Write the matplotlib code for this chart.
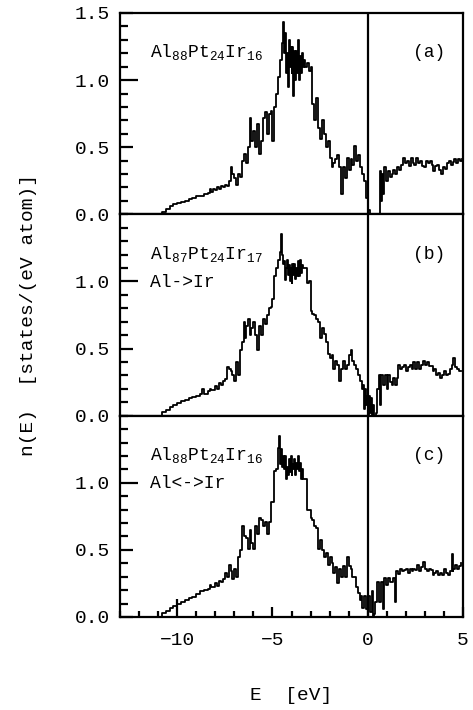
import numpy as np
import matplotlib.pyplot as plt
from matplotlib.ticker import MultipleLocator, FixedLocator

# ------------------------------------------------------------
# font: Courier-like monospace everywhere, math text too
# ------------------------------------------------------------
plt.rcParams['font.family'] = ['Liberation Mono', 'DejaVu Sans']
plt.rcParams['mathtext.fontset'] = 'custom'
plt.rcParams['mathtext.rm'] = 'Liberation Mono'
plt.rcParams['mathtext.it'] = 'Liberation Mono'
plt.rcParams['mathtext.bf'] = 'Liberation Mono'

# ------------------------------------------------------------
# DOS, digitised (E [eV], n(E))
# ------------------------------------------------------------
dos_a = [
    (-10.9, 0.0), (-10.8, 0.02), (-10.6, 0.04), (-10.4, 0.06), (-10.2, 0.075),
    (-10.0, 0.085), (-9.8, 0.095), (-9.6, 0.10), (-9.4, 0.115), (-9.2, 0.12),
    (-9.0, 0.135), (-8.8, 0.14), (-8.6, 0.155), (-8.4, 0.16), (-8.3, 0.19),
    (-8.2, 0.165), (-8.1, 0.185), (-8.0, 0.18), (-7.9, 0.2), (-7.8, 0.19),
    (-7.7, 0.21), (-7.6, 0.2), (-7.5, 0.22), (-7.4, 0.21), (-7.3, 0.25),
    (-7.2, 0.35), (-7.1, 0.3), (-7.0, 0.27), (-6.9, 0.22), (-6.8, 0.3),
    (-6.7, 0.28), (-6.6, 0.4), (-6.5, 0.45), (-6.4, 0.38), (-6.3, 0.5),
    (-6.2, 0.72), (-6.1, 0.55), (-6.0, 0.62), (-5.9, 0.5), (-5.8, 0.67),
    (-5.7, 0.45), (-5.6, 0.55), (-5.5, 0.72), (-5.4, 0.76), (-5.3, 0.6),
    (-5.2, 0.75), (-5.1, 0.77), (-5.0, 0.55), (-4.9, 0.8), (-4.8, 0.9),
    (-4.7, 1.02), (-4.6, 1.15), (-4.5, 1.28), (-4.45, 1.43), (-4.4, 1.2),
    (-4.35, 1.35), (-4.3, 1.05), (-4.25, 1.2), (-4.2, 0.95), (-4.15, 1.3),
    (-4.1, 1.1), (-4.05, 1.25), (-4.0, 1.05), (-3.95, 1.25), (-3.9, 0.88),
    (-3.85, 1.22), (-3.8, 1.0), (-3.75, 1.22), (-3.7, 1.05), (-3.65, 1.3),
    (-3.6, 1.0), (-3.55, 1.18), (-3.5, 1.05), (-3.45, 1.2), (-3.4, 1.1),
    (-3.35, 1.15), (-3.3, 1.1), (-3.2, 1.13), (-3.1, 1.07), (-3.0, 1.1),
    (-2.9, 0.82), (-2.8, 0.7), (-2.7, 0.87), (-2.6, 0.64), (-2.5, 0.56),
    (-2.4, 0.7), (-2.3, 0.6), (-2.2, 0.5), (-2.1, 0.55), (-2.0, 0.42),
    (-1.9, 0.35), (-1.8, 0.38), (-1.7, 0.41), (-1.6, 0.44), (-1.5, 0.35),
    (-1.4, 0.15), (-1.3, 0.35), (-1.2, 0.27), (-1.1, 0.42), (-1.0, 0.33),
    (-0.9, 0.41), (-0.8, 0.37), (-0.7, 0.51), (-0.6, 0.4), (-0.5, 0.44),
    (-0.4, 0.35), (-0.3, 0.3), (-0.2, 0.25), (-0.1, 0.12), (0.0, 0.03),
    (0.1, 0.0), (0.65, 0.32), (0.7, 0.1), (0.75, 0.3), (0.8, 0.15),
    (0.85, 0.35), (0.95, 0.25), (1.05, 0.32), (1.15, 0.28), (1.25, 0.3),
    (1.35, 0.33), (1.45, 0.3), (1.55, 0.35), (1.65, 0.33), (1.75, 0.37),
    (1.85, 0.42), (1.95, 0.38), (2.05, 0.4), (2.15, 0.36), (2.25, 0.42),
    (2.35, 0.38), (2.45, 0.37), (2.55, 0.42), (2.65, 0.38), (2.75, 0.4),
    (2.85, 0.36), (2.95, 0.35), (3.05, 0.4), (3.15, 0.38), (3.25, 0.4),
    (3.35, 0.37), (3.45, 0.32), (3.55, 0.36), (3.65, 0.37), (3.75, 0.33),
    (3.85, 0.3), (3.95, 0.35), (4.05, 0.34), (4.15, 0.38), (4.25, 0.4),
    (4.35, 0.37), (4.45, 0.39), (4.55, 0.41), (4.65, 0.38), (4.75, 0.41),
    (4.85, 0.4), (4.95, 0.41),
]

dos_b = [
    (-11.0, 0.0), (-10.8, 0.025), (-10.6, 0.045), (-10.4, 0.065), (-10.2, 0.08),
    (-10.0, 0.095), (-9.8, 0.11), (-9.6, 0.12), (-9.4, 0.13), (-9.2, 0.14),
    (-9.0, 0.15), (-8.8, 0.16), (-8.7, 0.2), (-8.6, 0.165), (-8.4, 0.18),
    (-8.3, 0.2), (-8.2, 0.19), (-8.0, 0.22), (-7.9, 0.2), (-7.8, 0.24),
    (-7.7, 0.23), (-7.6, 0.26), (-7.5, 0.27), (-7.4, 0.36), (-7.3, 0.35),
    (-7.2, 0.33), (-7.1, 0.3), (-7.0, 0.26), (-6.9, 0.4), (-6.8, 0.3),
    (-6.7, 0.49), (-6.6, 0.55), (-6.5, 0.7), (-6.45, 0.58), (-6.4, 0.67),
    (-6.3, 0.72), (-6.2, 0.6), (-6.1, 0.65), (-6.0, 0.7), (-5.9, 0.6),
    (-5.8, 0.49), (-5.7, 0.67), (-5.6, 0.6), (-5.5, 0.72), (-5.4, 0.68),
    (-5.3, 0.75), (-5.2, 0.8), (-5.1, 0.81), (-5.0, 0.87), (-4.9, 1.04),
    (-4.8, 1.1), (-4.7, 1.16), (-4.6, 1.22), (-4.55, 1.35), (-4.5, 1.2),
    (-4.45, 1.13), (-4.4, 1.15), (-4.35, 1.01), (-4.3, 1.1), (-4.25, 1.16),
    (-4.2, 1.05), (-4.15, 1.12), (-4.1, 1.0), (-4.05, 1.1), (-4.0, 0.99),
    (-3.95, 1.13), (-3.9, 1.05), (-3.85, 1.13), (-3.8, 1.02), (-3.75, 1.1),
    (-3.7, 1.04), (-3.65, 1.15), (-3.6, 1.04), (-3.55, 1.16), (-3.5, 1.06),
    (-3.45, 1.12), (-3.4, 1.1), (-3.3, 1.1), (-3.2, 0.99), (-3.1, 1.0),
    (-3.0, 0.78), (-2.9, 0.76), (-2.8, 0.75), (-2.7, 0.72), (-2.6, 0.7),
    (-2.5, 0.58), (-2.4, 0.65), (-2.3, 0.61), (-2.2, 0.55), (-2.1, 0.46),
    (-2.0, 0.43), (-1.9, 0.45), (-1.8, 0.35), (-1.7, 0.41), (-1.6, 0.38),
    (-1.5, 0.26), (-1.4, 0.35), (-1.3, 0.41), (-1.2, 0.35), (-1.1, 0.38),
    (-1.0, 0.45), (-0.9, 0.49), (-0.8, 0.41), (-0.7, 0.38), (-0.6, 0.35),
    (-0.5, 0.3), (-0.4, 0.26), (-0.3, 0.2), (-0.25, 0.23), (-0.2, 0.05),
    (-0.15, 0.2), (-0.1, 0.08), (-0.05, 0.15), (0.0, 0.0), (0.05, 0.15),
    (0.1, 0.02), (0.15, 0.13), (0.2, 0.0), (0.3, 0.08), (0.35, 0.0),
    (0.45, 0.02), (0.5, 0.2), (0.6, 0.3), (0.65, 0.08), (0.7, 0.3),
    (0.8, 0.23), (0.9, 0.3), (1.0, 0.2), (1.05, 0.3), (1.15, 0.25),
    (1.25, 0.23), (1.35, 0.28), (1.45, 0.23), (1.55, 0.28), (1.6, 0.38),
    (1.7, 0.35), (1.8, 0.36), (1.9, 0.38), (2.0, 0.33), (2.1, 0.36),
    (2.2, 0.38), (2.3, 0.35), (2.4, 0.4), (2.5, 0.35), (2.6, 0.4),
    (2.7, 0.35), (2.8, 0.38), (2.9, 0.41), (3.0, 0.38), (3.1, 0.4),
    (3.2, 0.37), (3.3, 0.37), (3.4, 0.33), (3.5, 0.35), (3.6, 0.3),
    (3.7, 0.32), (3.8, 0.28), (3.9, 0.3), (4.0, 0.33), (4.1, 0.3),
    (4.2, 0.31), (4.3, 0.35), (4.4, 0.38), (4.5, 0.43), (4.6, 0.36),
    (4.7, 0.35), (4.8, 0.33), (4.9, 0.33),
]

dos_c = [
    (-11.0, 0.0), (-10.8, 0.03), (-10.6, 0.045), (-10.4, 0.065), (-10.2, 0.085),
    (-10.0, 0.1), (-9.8, 0.115), (-9.6, 0.125), (-9.4, 0.14), (-9.2, 0.15),
    (-9.0, 0.17), (-8.8, 0.19), (-8.6, 0.2), (-8.4, 0.21), (-8.3, 0.24),
    (-8.2, 0.22), (-8.0, 0.25), (-7.9, 0.23), (-7.8, 0.27), (-7.7, 0.26),
    (-7.6, 0.28), (-7.5, 0.33), (-7.4, 0.3), (-7.3, 0.39), (-7.2, 0.34),
    (-7.1, 0.28), (-7.0, 0.36), (-6.9, 0.3), (-6.8, 0.45), (-6.7, 0.5),
    (-6.6, 0.68), (-6.5, 0.6), (-6.4, 0.59), (-6.3, 0.51), (-6.2, 0.65),
    (-6.1, 0.55), (-6.0, 0.51), (-5.9, 0.68), (-5.8, 0.62), (-5.7, 0.74),
    (-5.6, 0.72), (-5.5, 0.68), (-5.4, 0.71), (-5.3, 0.62), (-5.2, 0.71),
    (-5.1, 0.86), (-5.0, 0.86), (-4.9, 1.09), (-4.8, 1.1), (-4.7, 1.26),
    (-4.65, 1.35), (-4.6, 1.14), (-4.55, 1.25), (-4.5, 1.12), (-4.45, 1.2),
    (-4.4, 1.1), (-4.35, 1.2), (-4.3, 1.03), (-4.25, 1.12), (-4.2, 1.06),
    (-4.15, 1.18), (-4.1, 1.08), (-4.05, 1.2), (-4.0, 1.06), (-3.95, 1.14),
    (-3.9, 1.1), (-3.85, 1.18), (-3.8, 1.06), (-3.75, 1.15), (-3.7, 1.1),
    (-3.65, 1.2), (-3.6, 1.09), (-3.55, 1.15), (-3.5, 1.03), (-3.45, 1.1),
    (-3.4, 1.03), (-3.3, 1.03), (-3.2, 0.8), (-3.1, 0.8), (-3.0, 0.74),
    (-2.9, 0.72), (-2.8, 0.68), (-2.7, 0.66), (-2.6, 0.51), (-2.5, 0.57),
    (-2.4, 0.5), (-2.3, 0.45), (-2.2, 0.48), (-2.1, 0.39), (-2.0, 0.45),
    (-1.9, 0.4), (-1.8, 0.33), (-1.7, 0.37), (-1.6, 0.25), (-1.5, 0.36),
    (-1.4, 0.3), (-1.3, 0.38), (-1.2, 0.3), (-1.1, 0.45), (-1.0, 0.38),
    (-0.9, 0.36), (-0.8, 0.3), (-0.7, 0.3), (-0.6, 0.22), (-0.5, 0.18),
    (-0.4, 0.13), (-0.35, 0.16), (-0.3, 0.07), (-0.2, 0.16), (-0.1, 0.06),
    (0.0, 0.16), (0.1, 0.04), (0.2, 0.19), (0.25, 0.0), (0.35, 0.02),
    (0.4, 0.11), (0.5, 0.26), (0.6, 0.11), (0.7, 0.26), (0.8, 0.06),
    (0.85, 0.29), (0.95, 0.24), (1.05, 0.29), (1.15, 0.26), (1.3, 0.29),
    (1.45, 0.11), (1.5, 0.34), (1.6, 0.32), (1.7, 0.36), (1.8, 0.34),
    (1.9, 0.35), (2.0, 0.36), (2.1, 0.33), (2.2, 0.36), (2.3, 0.34),
    (2.4, 0.36), (2.5, 0.35), (2.6, 0.39), (2.7, 0.34), (2.8, 0.37),
    (2.9, 0.41), (3.0, 0.36), (3.1, 0.34), (3.2, 0.36), (3.3, 0.35),
    (3.4, 0.31), (3.5, 0.33), (3.6, 0.34), (3.7, 0.31), (3.8, 0.33),
    (3.9, 0.31), (4.0, 0.36), (4.1, 0.33), (4.2, 0.31), (4.3, 0.34),
    (4.4, 0.47), (4.45, 0.34), (4.5, 0.36), (4.6, 0.39), (4.7, 0.36),
    (4.8, 0.38), (4.9, 0.4),
]

compositions = [r'Al$_{88}$Pt$_{24}$Ir$_{16}$',
                r'Al$_{87}$Pt$_{24}$Ir$_{17}$',
                r'Al$_{88}$Pt$_{24}$Ir$_{16}$']
swaps = [None, 'Al->Ir', 'Al<->Ir']
panel_tags = ['(a)', '(b)', '(c)']

x_range = (-13, 5)
y_range = (0, 1.5)
x_ticks = [-10, -5, 0, 5]

# ------------------------------------------------------------
# figure
# ------------------------------------------------------------
fig, axes = plt.subplots(3, 1, figsize=(4.73, 7.10), dpi=100, sharex=True)
fig.subplots_adjust(left=0.2537, right=0.9789, top=0.9817, bottom=0.131,
                    hspace=0)

for i, (ax, dos) in enumerate(zip(axes, [dos_a, dos_b, dos_c])):
    e, n = np.array(dos).T
    ax.plot(e, n, color='black', lw=1.3, drawstyle='steps-post')
    ax.axvline(0, color='black', lw=1.6)

    ax.set_xlim(*x_range)
    ax.set_ylim(*y_range)

    for sp in ax.spines.values():
        sp.set_linewidth(1.6)

    # y ticks
    y_major = [0.0, 0.5, 1.0, 1.5] if i == 0 else [0.0, 0.5, 1.0]
    ax.yaxis.set_major_locator(FixedLocator(y_major))
    ax.yaxis.set_minor_locator(MultipleLocator(0.1))
    ax.yaxis.set_major_formatter(plt.FormatStrFormatter('%.1f'))
    ax.tick_params(axis='y', which='major', direction='in', length=9,
                   width=1.6, labelsize=14, pad=7, right=False)
    ax.tick_params(axis='y', which='minor', direction='in', length=5.5,
                   width=1.6, right=False)
    # the 1.0 tick is drawn longer
    ax.yaxis.get_major_ticks(len(y_major))[2].tick1line.set_markersize(13)

    # x ticks only on the bottom panel
    ax.xaxis.set_major_locator(FixedLocator(x_ticks))
    ax.xaxis.set_minor_locator(MultipleLocator(1))
    if i < 2:
        ax.tick_params(axis='x', which='both', bottom=False, top=False,
                       labelbottom=False)
    else:
        ax.tick_params(axis='x', which='major', direction='in', length=7.5,
                       width=1.6, labelsize=14, pad=11, top=False)
        ax.tick_params(axis='x', which='minor', direction='in', length=4,
                       width=1.6, top=False)
        ax.xaxis.get_major_ticks(len(x_ticks))[0].tick1line.set_markersize(13)

    # labels inside panels
    ax.text(-11.4, 1.17, compositions[i], fontsize=13, va='baseline')
    if swaps[i]:
        ax.text(-11.4, 0.96, swaps[i], fontsize=13, va='baseline')
    ax.text(3.2, 1.17, panel_tags[i], fontsize=13, ha='center', va='baseline')

# axis titles
fig.text(0.06, 0.556, 'n(E)  [states/(eV atom)]', rotation=90,
         ha='center', va='center', fontsize=14)
fig.text(0.615, 0.021, 'E  [eV]', ha='center', va='center', fontsize=14)

fig.patch.set_facecolor('white')

plt.savefig('out.png', dpi=100)
